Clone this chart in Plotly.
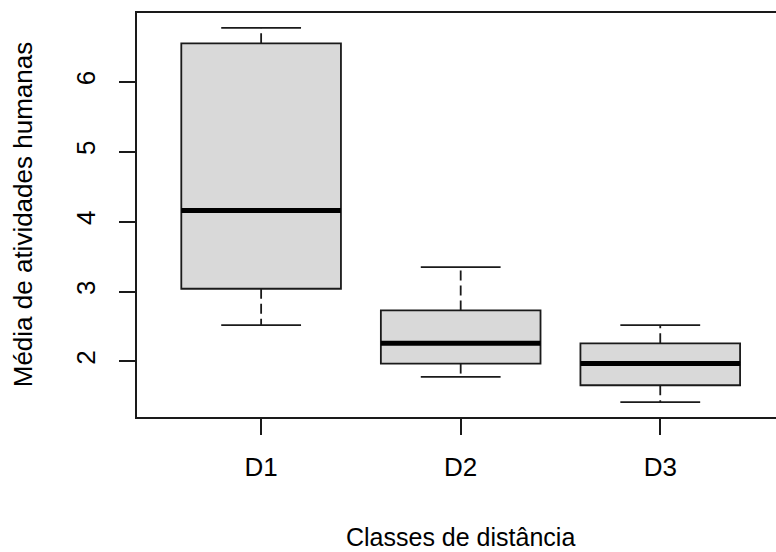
import plotly.graph_objects as go

categories = ["D1", "D2", "D3"]
lower_whisker = [2.52, 1.78, 1.42]
q1_values = [3.04, 1.97, 1.66]
median_values = [4.16, 2.26, 1.97]
q3_values = [6.55, 2.73, 2.26]
upper_whisker = [6.77, 3.35, 2.52]
y_tick_values = [2, 3, 4, 5, 6]
x_title = "Classes de distância"
y_title = "Média de atividades humanas"

positions = [1, 2, 3]
box_width = 0.8
staple_half = box_width * 0.25
line_col = "#1a1a1a"
font_family = "Liberation Sans, Arial, sans-serif"
FS = 26

fig = go.Figure()

# dashed whiskers and caps
for p, lo, q1, q3, hi in zip(positions, lower_whisker, q1_values, q3_values, upper_whisker):
    fig.add_trace(go.Scatter(x=[p, p, None, p, p], y=[q3, hi, None, q1, lo], mode="lines",
                             line=dict(color=line_col, width=1.8, dash="10px,5px"),
                             hoverinfo="skip", showlegend=False))
    fig.add_trace(go.Scatter(x=[p - staple_half, p + staple_half, None, p - staple_half, p + staple_half],
                             y=[hi, hi, None, lo, lo], mode="lines",
                             line=dict(color=line_col, width=1.8),
                             hoverinfo="skip", showlegend=False))

# boxes
for p, q1, med, q3 in zip(positions, q1_values, median_values, q3_values):
    fig.add_trace(go.Box(x=[p], q1=[q1], median=[med], q3=[q3], lowerfence=[q1], upperfence=[q3],
                         width=box_width, fillcolor="#d9d9d9",
                         line=dict(color=line_col, width=1.8), whiskerwidth=0,
                         hoverinfo="skip", showlegend=False))
    fig.add_trace(go.Scatter(x=[p - box_width / 2, p + box_width / 2], y=[med, med], mode="lines",
                             line=dict(color="#000000", width=5),
                             hoverinfo="skip", showlegend=False))

ymin = min(lower_whisker)
ymax = max(upper_whisker)
pad = (ymax - ymin) * 0.04

fig.update_layout(
    width=776, height=552,
    margin=dict(l=137, r=0, t=13, b=135),
    plot_bgcolor="white", paper_bgcolor="white",
    font=dict(family=font_family, size=FS, color="#000000"),
    xaxis=dict(range=[0.378, 3.58], tickvals=positions, ticktext=categories,
               showgrid=False, zeroline=False, showline=True, mirror=True,
               linecolor=line_col, linewidth=2, ticks="outside", ticklen=16, tickwidth=2,
               tickcolor=line_col, tickfont=dict(size=FS), ticklabelstandoff=10),
    yaxis=dict(range=[ymin - pad, ymax + pad], tickvals=y_tick_values,
               showgrid=False, zeroline=False, showline=True, mirror=False,
               linecolor=line_col, linewidth=2, ticks="outside", ticklen=16, tickwidth=2,
               tickcolor=line_col, tickangle=-90, tickfont=dict(size=FS), ticklabelstandoff=14),
    annotations=[
        dict(text=x_title, xref="x", yref="paper", x=2, y=-0.296, xanchor="center", yanchor="middle",
             showarrow=False, font=dict(size=FS - 1)),
        dict(text=y_title, xref="paper", yref="paper", x=-0.178, y=0.5, xanchor="center", yanchor="middle",
             textangle=-90, showarrow=False, font=dict(size=FS)),
    ],
)

fig.write_html("out.html", config={"displayModeBar": False},
               post_script="document.body.style.margin='0';document.body.style.overflow='hidden';")
